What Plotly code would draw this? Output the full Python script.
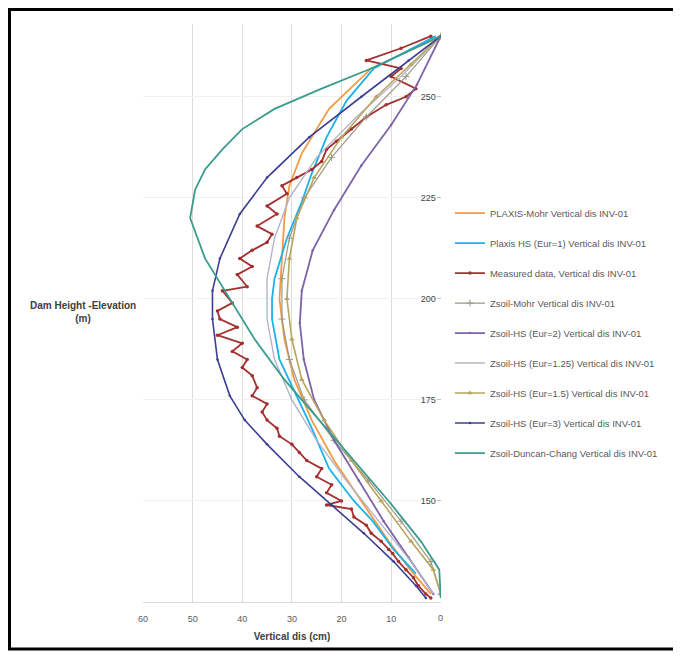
import plotly.graph_objects as go

# PLAXIS-Mohr
pm_elev = [265, 257, 247, 236, 228, 220, 210, 200, 190, 180, 170, 160, 150, 140, 132, 127]
pm_disp = [0, 14, 22.5, 28, 30.5, 31.5, 32, 32.5, 31.5, 29.5, 26, 21.5, 16, 10.5, 5.5, 2]

# Plaxis HS (Eur=1)
phs_elev = [265, 257, 249, 240, 231, 224, 215, 205, 200, 195, 185, 176, 168, 158, 150, 145, 138, 132]
phs_disp = [1, 13.5, 19, 23, 26, 28, 31, 33.5, 34, 34, 32.5, 29, 26, 22.5, 17.5, 13.7, 9.5, 5]

# Measured data
ms_elev = [265, 262, 259, 257, 255, 252, 250, 248, 245, 242, 239, 237, 234, 232, 230, 228, 226, 223,
           221, 218, 216, 214, 212, 210, 208, 206, 203, 202, 199, 197, 195, 193, 191, 189, 187, 185,
           183, 181, 178, 176, 174, 172, 170, 168, 166, 164, 162, 160, 158, 156, 154, 152, 150, 149,
           148, 146, 144, 142, 140, 138, 137, 135, 133, 131, 129, 127, 126]
ms_disp = [2, 8, 15, 8, 10, 5, 7, 11, 15, 18, 21, 23, 24, 26, 29, 32, 31, 35,
           33, 37, 34, 35, 38, 40.5, 38, 41, 39, 44, 42, 45, 44.5, 41, 45, 40, 42, 39,
           40, 38, 37, 38, 35, 36, 35, 33, 32.5, 30, 28.5, 27, 24, 25, 22, 23, 20, 23,
           18, 17.5, 15, 14, 12, 10.5, 9.7, 8.5, 7, 5.5, 4.5, 3, 2]

# Zsoil-Mohr
zm_elev = [265, 255, 245, 235, 225, 215, 205, 195, 185, 175, 165, 155, 145, 135, 127]
zm_disp = [0, 7, 15, 22, 27.5, 30.5, 32, 32, 30.5, 27.5, 21.5, 14.5, 8, 2, 0]

# Zsoil-HS (Eur=2)
hs2_elev = [265, 253, 243, 233, 222, 212, 202, 194, 185, 175, 165, 155, 145, 136, 127]
hs2_disp = [0, 4.8, 10, 16, 21.5, 25.8, 28, 28.4, 27.6, 25.5, 21.5, 16.5, 11.5, 6.5, 1.5]

# Zsoil-HS (Eur=1.25)
hs125_elev = [265, 255, 245, 235, 225, 215, 205, 195, 185, 175, 165, 155, 145, 135, 127]
hs125_disp = [0, 8, 17, 25, 30.5, 33.5, 35, 35, 33.5, 30, 25, 19, 12.5, 6, 1.5]

# Zsoil-HS (Eur=1.5)
hs15_elev = [265, 258, 250, 240, 230, 220, 210, 200, 190, 180, 170, 160, 150, 140, 133, 127]
hs15_disp = [0, 6, 13, 20, 25.5, 29, 30.5, 31, 30, 28, 23.5, 18, 12, 6, 1.5, 0]

# Zsoil-HS (Eur=3)
hs3_elev = [265, 259, 250, 240, 230, 221, 210, 202, 195, 185, 176, 170, 164, 156, 149, 142, 135, 129, 126]
hs3_disp = [0, 6.5, 16, 26.5, 35, 40.5, 44.5, 46, 46, 45, 42.5, 39.5, 35, 28.5, 22, 15.5, 9.5, 5, 3]

# Zsoil-Duncan-Chang
dc_elev = [265, 257, 252, 247, 242, 237, 232, 227, 220, 210, 200, 190, 180, 170, 160, 150, 140, 133, 126]
dc_disp = [0, 14, 24, 33.5, 40, 44, 47.5, 49.5, 50.5, 47.5, 42.5, 37.5, 31.5, 24.5, 17.5, 10.5, 4, 0.3, 0]

x_ticks = [60, 50, 40, 30, 20, 10, 0]
y_ticks = [125, 150, 175, 200, 225, 250]

series = [
    ("PLAXIS-Mohr Vertical dis INV-01", pm_disp, pm_elev, "#F39A45", 1.8, None),
    ("Plaxis HS (Eur=1) Vertical dis INV-01", phs_disp, phs_elev, "#1AB2EA", 1.8, None),
    ("Measured data, Vertical dis INV-01", ms_disp, ms_elev, "#A3302F", 1.8, dict(symbol="circle", size=3.5)),
    ("Zsoil-Mohr Vertical dis INV-01", zm_disp, zm_elev, "#9A9A86", 1.2, dict(symbol="cross-thin", size=5, line=dict(width=1, color="#9A9A86"))),
    ("Zsoil-HS (Eur=2) Vertical dis INV-01", hs2_disp, hs2_elev, "#7E63A8", 1.8, dict(symbol="circle", size=2.5)),
    ("Zsoil-HS (Eur=1.25) Vertical dis INV-01", hs125_disp, hs125_elev, "#B4B4C8", 1.4, None),
    ("Zsoil-HS (Eur=1.5) Vertical dis INV-01", hs15_disp, hs15_elev, "#B9A45E", 1.6, dict(symbol="triangle-up", size=5)),
    ("Zsoil-HS (Eur=3) Vertical dis INV-01", hs3_disp, hs3_elev, "#3B3F91", 1.6, dict(symbol="circle", size=2.5)),
    ("Zsoil-Duncan-Chang Vertical dis INV-01", dc_disp, dc_elev, "#3A9C8C", 1.8, None),
]

fig = go.Figure()
for i, (name, xs, ys, col, w, mk) in enumerate(series):
    fig.add_trace(go.Scatter(
        x=xs, y=ys, name=name, legendgroup=str(i),
        mode="lines+markers" if mk else "lines",
        line=dict(color=col, width=w),
        marker=dict(color=col, **mk) if mk else None,
    ))

# marco exterior (el body de la pagina deja 8px de margen)
fig.add_shape(type="rect", xref="paper", yref="paper",
              x0=-0.448, x1=1.785, y0=-0.0813, y1=1.0251,
              line=dict(color="black", width=3))

fig.add_annotation(text="<b>Dam Height -Elevation<br>(m)</b>", xref="paper", yref="y",
                   x=-0.2, xanchor="center", y=196.8, showarrow=False,
                   font=dict(size=10, color="#404040"))

# la etiqueta 0 del eje x queda oculta por plotly en el borde, se pone aparte
fig.add_annotation(text=str(x_ticks[-1]), xref="x", yref="paper", x=x_ticks[-1], y=0,
                   yanchor="top", yshift=-9, showarrow=False,
                   font=dict(size=9, color="#595959"))

fig.update_layout(
    width=673, height=648,
    margin=dict(l=135, r=240, t=16, b=54),
    paper_bgcolor="white", plot_bgcolor="white",
    font=dict(family="Liberation Sans", size=9, color="#595959"),
    showlegend=True,
    legend=dict(x=1.03, xanchor="left", y=0.698, yanchor="top",
                traceorder="grouped", tracegroupgap=11,
                font=dict(size=9.5, color="#595959"), itemwidth=30,
                bgcolor="rgba(0,0,0,0)"),
    xaxis=dict(range=[60, -0.05], tickvals=x_ticks, showgrid=True, gridcolor="#DCDCDC",
               zeroline=False, showline=True, linecolor="#D9D9D9", ticks="",
               ticklabelstandoff=8,
               title=dict(text="<b>Vertical dis (cm)</b>", font=dict(size=10, color="#404040"), standoff=10)),
    yaxis=dict(range=[125, 268], tickvals=y_ticks, side="right", ticklabelposition="inside",
               ticks="inside", ticklen=4, tickcolor="#BFBFBF",
               showgrid=True, gridcolor="#F0F0F0", zeroline=False, showline=False),
)

fig.write_html("out.html")
